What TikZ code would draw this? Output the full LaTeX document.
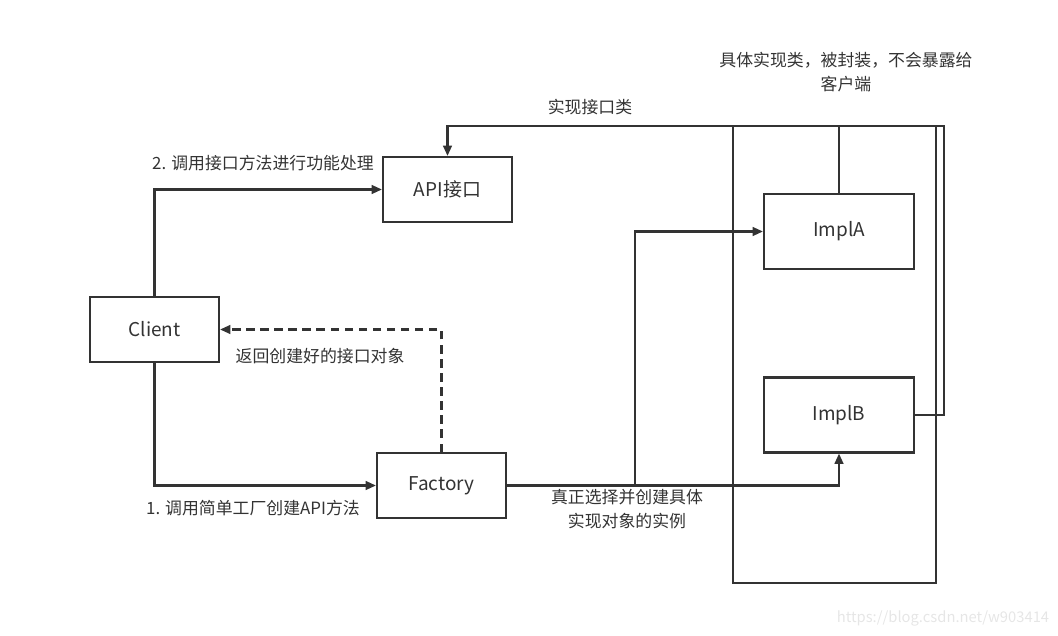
\documentclass[tikz,border=0pt]{standalone}
\usepackage{fontspec}
\setmainfont{Noto Sans CJK SC}
\usepackage{tikz}
\usetikzlibrary{arrows.meta,positioning,calc}
\definecolor{ink}{HTML}{333333}
\definecolor{wmark}{HTML}{E6E6E6}

\begin{document}
\begin{tikzpicture}[
  x=0.025cm, y=-0.025cm,
  box/.style={draw=ink, line width=1.5pt, fill=white, align=center, minimum width=3.225cm, minimum height=1.625cm, font=\fontsize{13.5}{16}\selectfont, text=ink},
  impl/.style={box, minimum width=3.75cm, minimum height=1.875cm},
  holder/.style={draw=ink, line width=1.5pt, minimum width=5.075cm, minimum height=11.425cm},
  lbl/.style={align=center, font=\fontsize{12}{17}\selectfont, text=ink},
  arrow/.style={-{Triangle[length=2.6mm, width=2.2mm]}, line width=1.5pt, draw=ink},
  link/.style={line width=1.5pt, draw=ink}
]
\useasboundingbox (0,0) rectangle (1058,636);

% implementation group
\node[holder] (group) at (834.5,354.5) {};
\node[impl] (implA) at (839,231.5) {ImplA};
\node[impl] (implB) at (839,415) {ImplB};

% main boxes
\node[box] (api) at (447.5,189.5) {API接口};
\node[box] (client) at (154.5,329.5) {Client};
\node[box] (factory) at (441.5,485.5) {Factory};

\coordinate (fork) at (635,485.5);
\coordinate (bend) at (944,126);

\draw[arrow] (client.north) |- (api.west);
\draw[arrow] (client.south) |- (factory.west);
\draw[arrow, dash pattern=on 6pt off 4pt] (factory.north) |- (client.east);
\draw[arrow] (factory.east) -| (implB.south);
\draw[arrow] (fork) |- (implA.west);
\draw[link] (implA.north) -- (implA.north |- group.north);
\draw[arrow] (implB.east) -| (bend) -| (api.north);

% labels
\node[lbl] (note) at (846,72) {具体实现类，被封装，不会暴露给\\客户端};
\node[lbl] (implLbl) at (590,107) {实现接口类};
\node[lbl] (callLbl) at (263,163) {2. 调用接口方法进行功能处理};
\node[lbl] (backLbl) at (320,356) {返回创建好的接口对象};
\node[lbl] (makeLbl) at (253,508) {1. 调用简单工厂创建API方法};
\node[lbl] (pickLbl) at (627,509) {真正选择并创建具体\\实现对象的实例};
\node[lbl, text=wmark, font=\fontsize{10.5}{12}\selectfont] (wm) at (943,618) {https://blog.csdn.net/w903414};
\end{tikzpicture}
\end{document}
